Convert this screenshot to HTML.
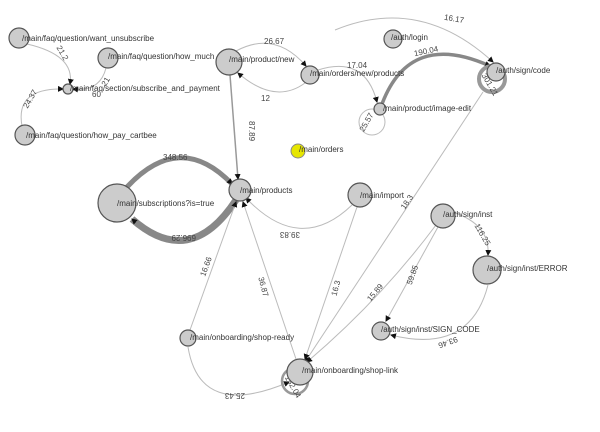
<!DOCTYPE html>
<html><head><meta charset="utf-8"><style>
html,body{margin:0;padding:0;background:#fff;width:600px;height:432px;overflow:hidden}
text{font-family:"Liberation Sans",sans-serif;font-size:8px;fill:#333}
.n{fill:#ccc;stroke:#555;stroke-width:1.2}
.e{fill:none;stroke:#bbb;stroke-width:1}
.l{font-size:8px;fill:#444}
</style></head><body>
<svg width="600" height="432" viewBox="0 0 600 432" xmlns="http://www.w3.org/2000/svg">
<defs><marker id="a" markerUnits="userSpaceOnUse" markerWidth="6" markerHeight="6" refX="5" refY="3" orient="auto"><path d="M0,0 L6,3 L0,6z" fill="#111"/></marker></defs>
<path class="e" d="M27,44 Q75,55 70,84" marker-end="url(#a)"/>
<path class="e" d="M106,68 Q100,92 73,89" marker-end="url(#a)"/>
<path class="e" d="M22,126 Q15,88 63,89" marker-end="url(#a)"/>
<text class="l" x="56" y="52" transform="rotate(60 60 50)">21.2</text>
<text class="l" x="92" y="97">60</text>
<text class="l" x="103" y="86" transform="rotate(-60 105 84)">21</text>
<text class="l" x="20" y="104" transform="rotate(-60 28 100)">24.37</text>
<path class="e" d="M236,51 Q275,30 306,66" marker-end="url(#a)"/>
<path class="e" d="M305,83 Q275,105 238,73" marker-end="url(#a)"/>
<text class="l" x="264" y="44">26.67</text>
<text class="l" x="261" y="101">12</text>
<path style="fill:none;stroke:#999;stroke-width:1.5" d="M230,75 L238,179" marker-end="url(#a)"/>
<text class="l" x="236" y="116" transform="rotate(90 240 125)">87.89</text>
<path class="e" d="M318,70 Q365,55 377,102" marker-end="url(#a)"/>
<text class="l" x="347" y="68">17.04</text>
<circle cx="372" cy="122" r="13" class="e"/>
<text class="l" x="359" y="128" transform="rotate(-60 365 126)">25.57</text>
<path style="fill:none;stroke:#888;stroke-width:3.5" d="M382,104 Q410,30 490,66" marker-end="url(#a)"/>
<text class="l" x="414" y="54" transform="rotate(-12 425 52)">190.04</text>
<path class="e" d="M335,30 Q420,-5 493,62" marker-end="url(#a)"/>
<text class="l" x="444" y="21" transform="rotate(10 452 19)">16.17</text>
<circle cx="492" cy="79" r="13" style="fill:none;stroke:#999;stroke-width:4"/>
<text class="l" x="480" y="86" transform="rotate(60 490 82)">301.21</text>
<path class="e" d="M483,92 L305,362" marker-end="url(#a)"/>
<text class="l" x="400" y="205" transform="rotate(-56 407 203)">18.3</text>
<path style="fill:none;stroke:#888;stroke-width:5" d="M127,187 Q180,130 232,184" marker-end="url(#a)"/>
<path style="fill:none;stroke:#888;stroke-width:7" d="M236,200 Q190,270 132,219" marker-end="url(#a)"/>
<text class="l" x="163" y="160">348.56</text>
<text class="l" x="172" y="241" transform="rotate(180 184 238)">696.29</text>
<path class="e" d="M352,205 Q300,255 246,198" marker-end="url(#a)"/>
<text class="l" x="284" y="238" transform="rotate(180 292 235)">39.83</text>
<path class="e" d="M357,207 L305,359" marker-end="url(#a)"/>
<text class="l" x="330" y="292" transform="rotate(-75 336 290)">16.3</text>
<path class="e" d="M296,359 L243,202" marker-end="url(#a)"/>
<text class="l" x="255" y="286" transform="rotate(75 262 284)">36.87</text>
<path class="e" d="M190,330 L236,202" marker-end="url(#a)"/>
<text class="l" x="196" y="272" transform="rotate(-70 204 268)">16.66</text>
<path class="e" d="M436,225 Q380,300 307,362" marker-end="url(#a)"/>
<text class="l" x="365" y="298" transform="rotate(-50 372 294)">15.89</text>
<path class="e" d="M455,213 Q490,225 488,255" marker-end="url(#a)"/>
<text class="l" x="474" y="230" transform="rotate(60 478 228)">116.25</text>
<path class="e" d="M438,227 L386,321" marker-end="url(#a)"/>
<text class="l" x="405" y="280" transform="rotate(-70 412 278)">59.85</text>
<path class="e" d="M488,285 Q470,355 391,335" marker-end="url(#a)"/>
<text class="l" x="442" y="345" transform="rotate(160 450 342)">93.46</text>
<path class="e" d="M188,347 Q200,420 289,382" marker-end="url(#a)"/>
<text class="l" x="225" y="399" transform="rotate(180 235 396)">25.43</text>
<circle cx="295" cy="381" r="13" style="fill:none;stroke:#999;stroke-width:2.5"/>
<text class="l" x="283" y="388" transform="rotate(60 293 384)">152.04</text>
<circle class="n" cx="19" cy="38" r="10"/><text x="22" y="41">/main/faq/question/want_unsubscribe</text>
<circle class="n" cx="108" cy="58" r="10"/><text x="108" y="59">/main/faq/question/how_much</text>
<circle class="n" cx="68" cy="89" r="5"/><text x="70" y="91">/main/faq/section/subscribe_and_payment</text>
<circle class="n" cx="25" cy="135" r="10"/><text x="26" y="138">/main/faq/question/how_pay_cartbee</text>
<circle class="n" cx="229" cy="62" r="13"/><text x="229" y="62">/main/product/new</text>
<circle class="n" cx="310" cy="75" r="9"/><text x="310" y="76">/main/orders/new/products</text>
<circle class="n" cx="393" cy="39" r="9"/><text x="391" y="40">/auth/login</text>
<circle class="n" cx="496" cy="72" r="9"/><text x="496" y="73">/auth/sign/code</text>
<circle class="n" cx="380" cy="109" r="6"/><text x="383" y="111">/main/product/image-edit</text>
<circle cx="298" cy="151" r="7" style="fill:#e6e600;stroke:#888;stroke-width:1"/><text x="299" y="152">/main/orders</text>
<circle class="n" cx="117" cy="203" r="19"/><text x="117" y="206">/main/subscriptions?is=true</text>
<circle class="n" cx="240" cy="190" r="11"/><text x="240" y="193">/main/products</text>
<circle class="n" cx="360" cy="195" r="12"/><text x="360" y="198">/main/import</text>
<circle class="n" cx="443" cy="216" r="12"/><text x="443" y="217">/auth/sign/inst</text>
<circle class="n" cx="487" cy="270" r="14"/><text x="487" y="271">/auth/sign/inst/ERROR</text>
<circle class="n" cx="381" cy="331" r="9"/><text x="381" y="332">/auth/sign/inst/SIGN_CODE</text>
<circle class="n" cx="188" cy="338" r="8"/><text x="190" y="340">/main/onboarding/shop-ready</text>
<circle class="n" cx="300" cy="372" r="13"/><text x="302" y="373">/main/onboarding/shop-link</text>
</svg>
</body></html>
